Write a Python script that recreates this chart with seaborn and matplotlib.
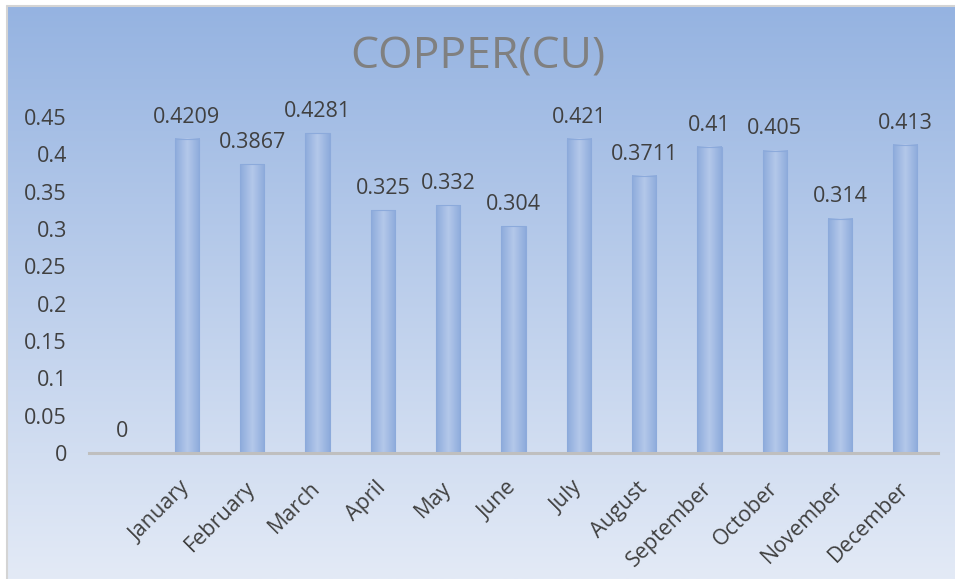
import numpy as np
import pandas as pd
import matplotlib
matplotlib.use("Agg")
import matplotlib.pyplot as plt
import seaborn as sns
from matplotlib.colors import LinearSegmentedColormap
from matplotlib.lines import Line2D

# ---- data ----
months = ["", "January", "February", "March", "April", "May", "June",
          "July", "August", "September", "October", "November", "December"]
values = [0, 0.4209, 0.3867, 0.4281, 0.325, 0.332, 0.304,
          0.421, 0.3711, 0.41, 0.405, 0.314, 0.413]
value_labels = ["0", "0.4209", "0.3867", "0.4281", "0.325", "0.332", "0.304",
                "0.421", "0.3711", "0.41", "0.405", "0.314", "0.413"]
yticks = [0, 0.05, 0.1, 0.15, 0.2, 0.25, 0.3, 0.35, 0.4, 0.45]
ytick_labels = ["0", "0.05", "0.1", "0.15", "0.2", "0.25", "0.3", "0.35", "0.4", "0.45"]
title = "COPPER(CU)"

sns.set_theme(style="white")
plt.rcParams['font.family'] = ['Open Sans', 'DejaVu Sans']

W, H = 955, 579
fig = plt.figure(figsize=(W / 100, H / 100), dpi=100)
fig.patch.set_facecolor("white")

# background gradient inside the chart border
bx0, by_top = 7 / W, 1 - 5.5 / H
bg = fig.add_axes([bx0, 0, 1 - bx0, by_top], zorder=-10)
grad = np.linspace(0, 1, 256).reshape(-1, 1)
bgcmap = LinearSegmentedColormap.from_list("bg", ["#95b3e1", "#e3eaf6"])
bg.imshow(grad, aspect="auto", cmap=bgcmap, extent=[0, 1, 0, 1], origin="upper")
bg.axis("off")

# border (left and top visible)
fig.add_artist(Line2D([bx0, bx0], [0, by_top], transform=fig.transFigure, color="#d4d4d4", lw=1.5))
fig.add_artist(Line2D([bx0, 1], [by_top, by_top], transform=fig.transFigure, color="#d4d4d4", lw=1.5))

# plot area
left, right = 89 / W, 938 / W
bottom, top = 1 - 453 / H, 1 - 117 / H
ax = fig.add_axes([left, bottom, right - left, top - bottom])
ax.patch.set_alpha(0)

df = pd.DataFrame({"month": months, "value": values})
sns.barplot(data=df, x="month", y="value", ax=ax, width=0.37,
            color="#9db7e2", edgecolor="#8caadb", linewidth=0.8, saturation=1)

# horizontal gradient inside each bar
barcmap = LinearSegmentedColormap.from_list("bar", ["#8dabdc", "#b4c8ea", "#8dabdc"])
hgrad = np.linspace(0, 1, 64).reshape(1, -1)
for p in ax.patches:
    x0, y0 = p.get_x(), p.get_y()
    w, h = p.get_width(), p.get_height()
    if h <= 0:
        continue
    ax.imshow(hgrad, cmap=barcmap, aspect="auto", extent=[x0, x0 + w, y0, y0 + h],
              origin="lower", zorder=2, interpolation="bilinear")
    p.set_facecolor("none")
    p.set_zorder(3)

ax.set_xlim(-0.5, len(months) - 0.5)
ax.set_ylim(0, 0.45)
ax.set_yticks(yticks)
ax.set_yticklabels(ytick_labels)
ax.set_xlabel("")
ax.set_ylabel("")
for s in ["top", "right", "left"]:
    ax.spines[s].set_visible(False)
ax.spines["bottom"].set_color("#bfbfbf")
ax.spines["bottom"].set_linewidth(2.2)
ax.spines["bottom"].set_zorder(4)
ax.tick_params(axis="both", length=0, labelsize=15.5, labelcolor="#404040")
ax.tick_params(axis="y", pad=16)
ax.tick_params(axis="x", pad=23)
for lab in ax.get_xticklabels():
    lab.set_rotation(45)
    lab.set_ha("right")
    lab.set_va("center")
    lab.set_rotation_mode("anchor")

ax.bar_label(ax.containers[0], labels=value_labels, padding=8, fontsize=15.5, color="#404040")

fig.text(0.5, 1 - 57 / H, title, ha="center", va="center", fontsize=32, color="#808080")

fig.savefig("out.png", dpi=100)
